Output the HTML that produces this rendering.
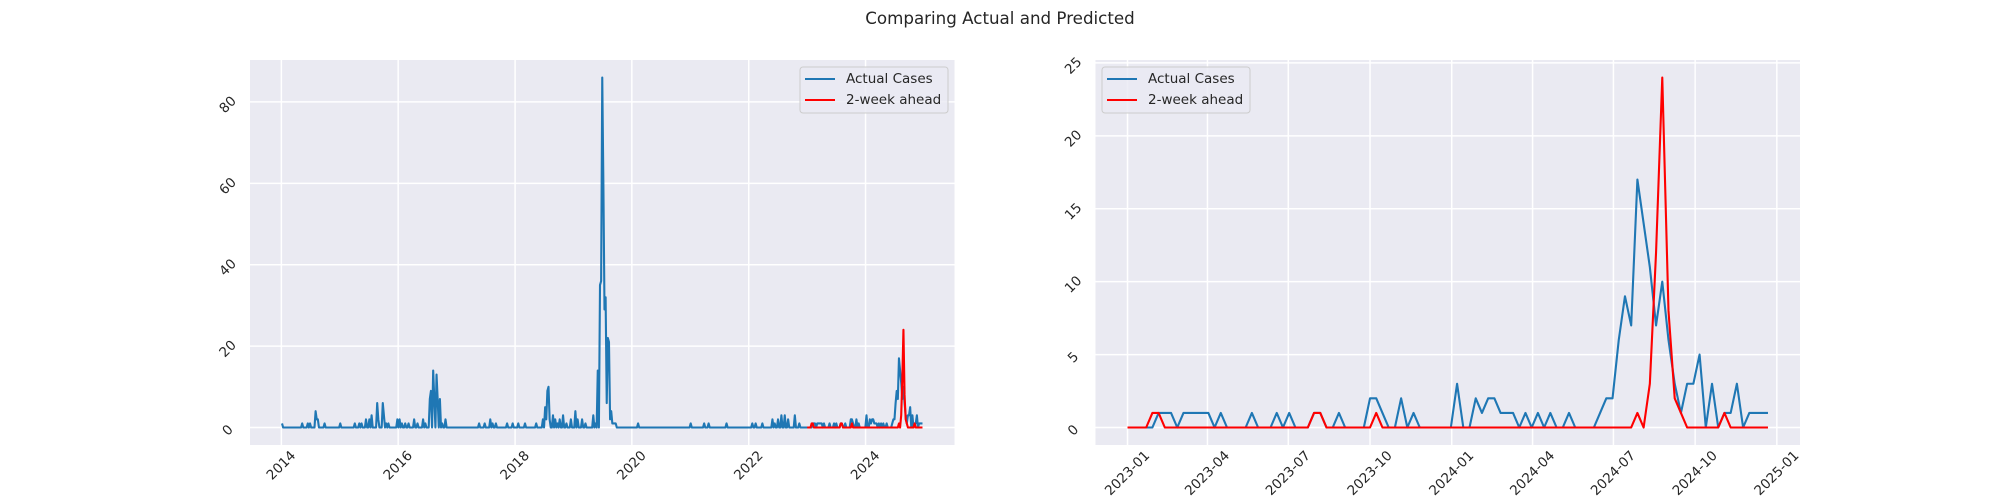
<!DOCTYPE html>
<html><head><meta charset="utf-8">
<style>
html,body{margin:0;padding:0;background:#fff;}
svg{display:block;font-family:"DejaVu Sans","Liberation Sans",sans-serif;}
</style></head>
<body>
<svg id="fig" width="2000" height="500" viewBox="0 0 2000 500">
  <text x="1000" y="24" text-anchor="middle" font-size="16.7" fill="#262626">Comparing Actual and Predicted</text>
</svg>
<script>
// ---- data ----
// Historical (pre-2023) non-zero weekly counts: week index from 2014-01-05
const histWeeks = [0,18,23,25,30,31,32,38,52,65,69,71,75,78,80,85,86,90,91,93,95,103,105,107,110,113,118,121,126,128,132,133,135,136,138,139,141,143,146,176,181,186,188,191,201,206,211,217,227,233,235,236,237,238,239,242,244,246,248,251,254,258,262,264,268,271,278,280,282,284,285,286,287,288,289,290,291,292,293,294,295,296,297,298,318,365,377,381,397,420,423,429,438,440,443,446,449,452,458,462];
const histValues = [1,1,1,1,4,2,2,1,1,1,1,1,2,2,3,6,2,6,3,1,1,2,2,1,1,1,2,1,2,1,7,9,14,7,13,7,7,1,2,1,1,2,1,1,1,1,1,1,1,2,5,2,9,10,2,3,2,1,2,3,1,2,4,2,2,1,3,1,14,35,36,86,60,29,32,6,22,21,2,4,1,1,1,1,1,1,1,1,1,1,1,1,2,1,2,3,3,2,3,1];
// 2023-01-01 onwards weekly (104 weeks)
const recentActual = [0,0,0,0,0,1,1,1,0,1,1,1,1,1,0,1,0,0,0,0,1,0,0,0,1,0,1,0,0,0,1,1,0,0,1,0,0,0,0,2,2,1,0,0,2,0,1,0,0,0,0,0,0,3,0,0,2,1,2,2,1,1,1,0,1,0,1,0,1,0,0,1,0,0,0,0,1,2,2,6,9,7,17,14,11,7,10,6,3,1,3,3,5,0,3,0,1,1,3,0,1,1,1,1];
const recentPred = [0,0,0,0,1,1,0,0,0,0,0,0,0,0,0,0,0,0,0,0,0,0,0,0,0,0,0,0,0,0,1,1,0,0,0,0,0,0,0,0,1,0,0,0,0,0,0,0,0,0,0,0,0,0,0,0,0,0,0,0,0,0,0,0,0,0,0,0,0,0,0,0,0,0,0,0,0,0,0,0,0,0,1,0,3,12,24,8,2,1,0,0,0,0,0,0,1,0,0,0,0,0,0,0];
const leftYTicks = [0,20,40,60,80];
const leftXTicks = ["2014","2016","2018","2020","2022","2024"];
const rightYTicks = [0,5,10,15,20,25];
const rightXTicks = ["2023-01","2023-04","2023-07","2023-10","2024-01","2024-04","2024-07","2024-10","2025-01"];
const seriesLabels = ["Actual Cases","2-week ahead"];

// ---- helpers ----
const NS="http://www.w3.org/2000/svg";
const svg=document.getElementById('fig');
const DAY=86400000;
const W0=Date.UTC(2014,0,5), R0=Date.UTC(2023,0,1);
function mk(tag,attrs,parent){const e=document.createElementNS(NS,tag);for(const k in attrs)e.setAttribute(k,attrs[k]);(parent||svg).appendChild(e);return e;}
function parseTick(s){const p=s.split('-');return Date.UTC(+p[0],p.length>1?(+p[1]-1):0,1);}

// full weekly series for left
const leftN=469+recentActual.length;
const leftActualDates=[],leftActualVals=[];
for(let i=0;i<469;i++){leftActualDates.push(W0+i*7*DAY);leftActualVals.push(0);}
histWeeks.forEach((w,i)=>{leftActualVals[w]=histValues[i];});
recentActual.forEach((v,i)=>{leftActualDates.push(R0+i*7*DAY);leftActualVals.push(v);});
const recentDates=recentActual.map((v,i)=>R0+i*7*DAY);

function drawAxes(cfg){
  const {x0,x1,y0,y1,dates,actual,predDates,pred,yTicks,xTicks,legendX,name}=cfg;
  const g=mk('g',{});
  
  
  const allD=dates.concat(predDates);
  const dmin=Math.min(...allD),dmax=Math.max(...allD);
  const xm=(dmax-dmin)*0.05;
  const allV=actual.concat(pred);
  const vmin=Math.min(...allV),vmax=Math.max(...allV);
  const ym=(vmax-vmin)*0.05;
  const X=d=>x0+(d-(dmin-xm))/((dmax+xm)-(dmin-xm))*(x1-x0);
  const Y=v=>y1-(v-(vmin-ym))/((vmax+ym)-(vmin-ym))*(y1-y0);
  const bg=mk('rect',{x:x0,y:y0,width:x1-x0,height:y1-y0,fill:'#EAEAF2'},g);
  
  
  yTicks.forEach(t=>{
    const y=Y(t);
    const gl=mk('line',{x1:x0,x2:x1,y1:y,y2:y,stroke:'#fff','stroke-width':1.5},g);
    
    
    const cx=x0-22,cy=y+3;
    const tx=mk('text',{x:cx,y:cy,'font-size':13.5,fill:'#262626','text-anchor':'middle','dominant-baseline':'central',transform:`rotate(-45 ${cx} ${cy})`},g);
    tx.textContent=t;
    
    
  });
  xTicks.forEach(s=>{
    const x=X(parseTick(s));
    const gl=mk('line',{x1:x,x2:x,y1:y0,y2:y1,stroke:'#fff','stroke-width':1.5},g);
    
    
    const w=s.length>4?56:34;
    const h=(w+13)*0.707;
    const cy=y1+4+h/2;
    const tx=mk('text',{x:x,y:cy,'font-size':13.5,fill:'#262626','text-anchor':'middle','dominant-baseline':'central',transform:`rotate(-45 ${x} ${cy})`},g);
    tx.textContent=s;
    
    
  });
  const clipId='c'+name;
  const cp=mk('clipPath',{id:clipId},g);mk('rect',{x:x0,y:y0,width:x1-x0,height:y1-y0},cp);
  const pa=mk('polyline',{points:dates.map((d,i)=>X(d).toFixed(2)+','+Y(actual[i]).toFixed(2)).join(' '),fill:'none',stroke:'#1f77b4','stroke-width':2.1,'stroke-linejoin':'round','clip-path':`url(#${clipId})`},g);
  
  
  const pp=mk('polyline',{points:predDates.map((d,i)=>X(d).toFixed(2)+','+Y(pred[i]).toFixed(2)).join(' '),fill:'none',stroke:'#ff0000','stroke-width':2.1,'stroke-linejoin':'round','clip-path':`url(#${clipId})`},g);
  
  
  // legend
  const lg=mk('g',{},g);
  
  
  mk('rect',{x:legendX,y:67,width:148,height:46,rx:3,fill:'#EAEAF2','fill-opacity':0.8,stroke:'#cccccc','stroke-width':1},lg);
  const cols=['#1f77b4','#ff0000'];
  seriesLabels.forEach((lab,i)=>{
    const yy=79+i*21;
    const ln=mk('line',{x1:legendX+5,x2:legendX+35,y1:yy,y2:yy,stroke:cols[i],'stroke-width':2.1},lg);
    
    
    const t=mk('text',{x:legendX+46,y:yy,'font-size':13.5,fill:'#262626','dominant-baseline':'central'},lg);
    t.textContent=lab;
    
    
  });
}

drawAxes({x0:250,x1:954.5,y0:60,y1:445,dates:leftActualDates,actual:leftActualVals,predDates:recentDates,pred:recentPred,yTicks:leftYTicks,xTicks:leftXTicks,legendX:800,name:'left-chart'});
drawAxes({x0:1095.5,x1:1800,y0:60,y1:445,dates:recentDates,actual:recentActual,predDates:recentDates,pred:recentPred,yTicks:rightYTicks,xTicks:rightXTicks,legendX:1102,name:'right-chart'});
</script>
</body></html>
